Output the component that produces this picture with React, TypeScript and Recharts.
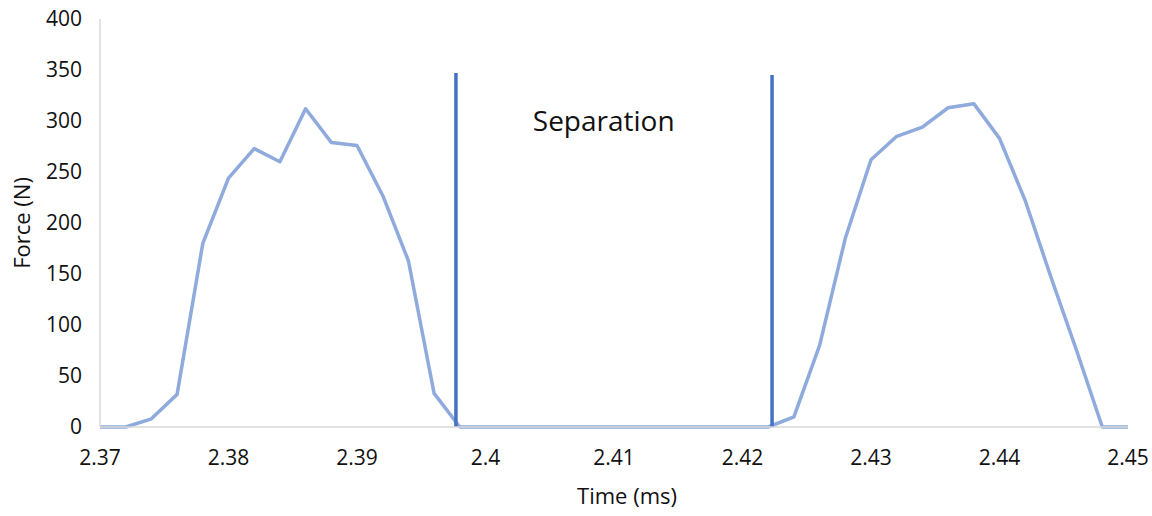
import { Line, LineChart, ReferenceDot, ReferenceLine, XAxis, YAxis } from "recharts";

const times = [
  2.370, 2.372, 2.374, 2.376, 2.378, 2.380, 2.382, 2.384, 2.386, 2.388,
  2.390, 2.392, 2.394, 2.396, 2.398, 2.400, 2.402, 2.404, 2.406, 2.408,
  2.410, 2.412, 2.414, 2.416, 2.418, 2.420, 2.422, 2.424, 2.426, 2.428,
  2.430, 2.432, 2.434, 2.436, 2.438, 2.440, 2.442, 2.444, 2.446, 2.448,
  2.450,
];

const force = [
  0, 0, 8, 32, 180, 244, 273, 260, 312, 279,
  276, 227, 163, 33, 0, 0, 0, 0, 0, 0,
  0, 0, 0, 0, 0, 0, 0, 10, 80, 185,
  262, 285, 294, 313, 317, 283, 222, 147, 75, 0,
  0,
];

const xTicks = [2.37, 2.38, 2.39, 2.4, 2.41, 2.42, 2.43, 2.44, 2.45];
const yTicks = [0, 50, 100, 150, 200, 250, 300, 350, 400];

// separation markers: [time, top force]
const separationStart = [2.3977, 347];
const separationEnd = [2.4223, 345];
const separationLabelAt = [2.4092, 300];

const FONT = '"Open Sans", sans-serif';
const TEXT = "#111";

const data = times.map((t, i) => ({ t, force: force[i] }));

export default function App() {
  return (
    <div style={{ position: "absolute", left: 0, top: 0, background: "#fff" }}>
      <LineChart
        width={1152}
        height={516}
        data={data}
        margin={{ top: 19, right: 24, bottom: 0, left: 0 }}
        style={{ fontFamily: FONT }}
      >
        <XAxis
          dataKey="t"
          type="number"
          domain={[2.37, 2.45]}
          ticks={xTicks}
          tickFormatter={(v: number) => String(Number(v.toFixed(3)))}
          height={89}
          tickSize={0}
          tickMargin={23}
          tickLine={false}
          axisLine={{ stroke: "#d9d9d9", strokeWidth: 1.5 }}
          tick={{ fill: TEXT, fontSize: 21, fontFamily: FONT }}
          label={{ value: "Time (ms)", position: "center", dx: 13, dy: 25, fill: TEXT, fontSize: 22, fontFamily: FONT }}
        />
        <YAxis
          type="number"
          domain={[0, 400]}
          ticks={yTicks}
          width={100}
          tickSize={0}
          tickMargin={18}
          tickLine={false}
          axisLine={{ stroke: "#d9d9d9", strokeWidth: 1.5 }}
          tick={{ fill: TEXT, fontSize: 21, fontFamily: FONT }}
          label={{ value: "Force (N)", angle: -90, position: "center", dx: -28, fill: TEXT, fontSize: 22, fontFamily: FONT }}
        />
        <Line
          type="linear"
          dataKey="force"
          stroke="#8faadc"
          strokeWidth={3.5}
          strokeLinejoin="round"
          dot={false}
          activeDot={false}
          isAnimationActive={false}
        />
        <ReferenceLine
          segment={[{ x: separationStart[0], y: 0 }, { x: separationStart[0], y: separationStart[1] }]}
          stroke="#4472c4"
          strokeWidth={3.5}
        />
        <ReferenceLine
          segment={[{ x: separationEnd[0], y: 0 }, { x: separationEnd[0], y: separationEnd[1] }]}
          stroke="#4472c4"
          strokeWidth={3.5}
        />
        <ReferenceDot
          x={separationLabelAt[0]}
          y={separationLabelAt[1]}
          r={0}
          fill="none"
          stroke="none"
          label={{ value: "Separation", position: "center", fill: TEXT, fontSize: 28, fontFamily: FONT }}
        />
      </LineChart>
    </div>
  );
}
